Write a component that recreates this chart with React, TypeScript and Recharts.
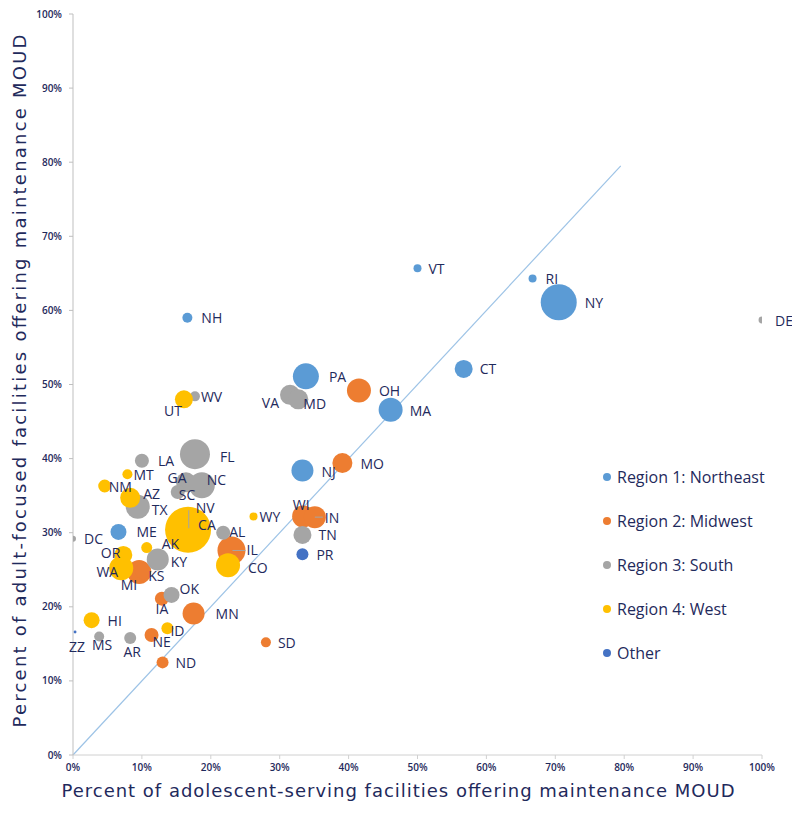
import { ScatterChart, Scatter, XAxis, YAxis, ZAxis, ReferenceLine } from 'recharts'

const NAVY = '#1f2a5c'
const FONT = '"Open Sans", sans-serif'
const TITLE_FONT = '"DejaVu Sans", sans-serif'

// state / territory codes, in drawing order
const STATES = [
  'VT', 'RI', 'NY', 'DE', 'NH', 'PA', 'OH', 'MA', 'CT', 'VA', 'MD', 'UT', 'WV', 'FL',
  'LA', 'MT', 'GA', 'NC', 'SC', 'NM', 'AZ', 'TX', 'NV', 'CA', 'WY', 'ME', 'DC', 'AL',
  'AK', 'KY', 'OR', 'WA', 'MI', 'KS', 'IL', 'CO', 'OK', 'IA', 'MN', 'HI', 'ID', 'NE',
  'MS', 'AR', 'ZZ', 'ND', 'NJ', 'MO', 'WI', 'IN', 'TN', 'PR', 'SD',
]

// % of adolescent-serving facilities offering maintenance MOUD
const ADOLESCENT_PCT = [
  50.0, 66.7, 70.5, 100, 16.6, 33.8, 41.5, 46.1, 56.7, 31.5, 32.7, 16.1, 17.7, 17.7,
  10.0, 7.9, 16.4, 18.7, 15.2, 4.6, 8.3, 9.4, 16.8, 16.7, 26.2, 6.6, 0, 21.8,
  10.7, 12.3, 7.3, 7.0, 9.6, 10.2, 23.0, 22.5, 14.3, 12.9, 17.5, 2.7, 13.7, 11.4,
  3.8, 8.3, 0.3, 13.0, 33.3, 39.1, 33.4, 35.1, 33.3, 33.3, 28.0,
]

// % of adult-focused facilities offering maintenance MOUD
const ADULT_PCT = [
  65.7, 64.3, 61.1, 58.7, 59.0, 51.1, 49.2, 46.6, 52.1, 48.6, 48.0, 48.0, 48.4, 40.6,
  39.7, 37.9, 36.8, 36.4, 35.5, 36.3, 34.7, 33.5, 30.6, 30.4, 32.2, 30.1, 29.2, 30.0,
  28.0, 26.4, 27.0, 25.2, 24.7, 24.8, 27.6, 25.6, 21.6, 21.1, 19.1, 18.2, 17.1, 16.2,
  16.0, 15.8, 16.6, 12.5, 38.4, 39.4, 32.2, 32.1, 29.7, 27.1, 15.2,
]

// bubble size (facility count, estimated)
const FACILITIES = [
  16, 16, 324, 12, 25, 169, 144, 144, 81, 100, 100, 81, 25, 225,
  49, 25, 100, 169, 49, 42, 100, 144, 16, 529, 16, 64, 9, 49,
  30, 121, 81, 144, 144, 64, 196, 144, 64, 49, 121, 64, 36, 49,
  25, 36, 2, 36, 121, 100, 121, 121, 81, 36, 25,
]

const REGION_OF = [
  'R1', 'R1', 'R1', 'R3', 'R1', 'R1', 'R2', 'R1', 'R1', 'R3', 'R3', 'R4', 'R3', 'R3',
  'R3', 'R4', 'R3', 'R3', 'R3', 'R4', 'R4', 'R3', 'R4', 'R4', 'R4', 'R1', 'R3', 'R3',
  'R4', 'R3', 'R4', 'R4', 'R2', 'R2', 'R2', 'R4', 'R3', 'R2', 'R2', 'R4', 'R4', 'R2',
  'R3', 'R3', 'OT', 'R2', 'R1', 'R2', 'R2', 'R2', 'R3', 'OT', 'R2',
]

const REGIONS = [
  { key: 'R1', label: 'Region 1: Northeast', color: '#5b9bd5' },
  { key: 'R2', label: 'Region 2: Midwest', color: '#ed7d31' },
  { key: 'R3', label: 'Region 3: South', color: '#a5a5a5' },
  { key: 'R4', label: 'Region 4: West', color: '#ffc000' },
  { key: 'OT', label: 'Other', color: '#4472c4' },
]

const PCT_TICKS = [0, 10, 20, 30, 40, 50, 60, 70, 80, 90, 100]

const points = STATES.map((state, i) => ({
  state,
  x: ADOLESCENT_PCT[i],
  y: ADULT_PCT[i],
  z: FACILITIES[i],
  region: REGION_OF[i],
}))

const zMin = Math.min(...FACILITIES)
const zMax = Math.max(...FACILITIES)

// label placement relative to bubble centre
type LabelPos = { dx: number; dy?: number; anchor?: 'start' | 'middle' | 'end'; leader?: number[] }
const LABEL_POS: Record<string, LabelPos> = {
  VT: { dx: 11 }, RI: { dx: 13 }, NY: { dx: 26 }, DE: { dx: 13 }, NH: { dx: 14 },
  PA: { dx: 23 }, OH: { dx: 20 }, MA: { dx: 19, dy: 1 }, CT: { dx: 16 },
  VA: { dx: -11, dy: 8, anchor: 'end' }, MD: { dx: 5, dy: 4 },
  UT: { dx: -2, dy: 11, anchor: 'end' }, WV: { dx: 6 }, FL: { dx: 25, dy: 2 },
  LA: { dx: 16 }, MT: { dx: 6 }, GA: { dx: -9, dy: -5, anchor: 'middle' },
  NC: { dx: 5, dy: -6 }, SC: { dx: 1, dy: 3 }, NM: { dx: 4 }, AZ: { dx: 13, dy: -4 },
  TX: { dx: 14, dy: 3 }, NV: { dx: 7, dy: -21, leader: [0, -18, 0, 0] },
  CA: { dx: 10, dy: -5 }, WY: { dx: 6 }, ME: { dx: 18 }, DC: { dx: 11 },
  AL: { dx: 6, dy: -1 }, AK: { dx: 15, dy: -4 }, KY: { dx: 13, dy: 2 },
  OR: { dx: -3, dy: -2, anchor: 'end' }, WA: { dx: -3, dy: 3, anchor: 'end' },
  MI: { dx: -2, dy: 13, anchor: 'end' }, KS: { dx: 5, dy: 4 },
  IL: { dx: 15, dy: -1, leader: [1, 0, 14, 0] }, CO: { dx: 20, dy: 2 }, OK: { dx: 8, dy: -6 },
  IA: { dx: 0, dy: 10, anchor: 'middle' }, MN: { dx: 22 }, HI: { dx: 16 },
  ID: { dx: 3, dy: 2 }, NE: { dx: 1, dy: 7 }, MS: { dx: 3, dy: 8, anchor: 'middle' },
  AR: { dx: 2, dy: 14, anchor: 'middle' }, ZZ: { dx: 2, dy: 15, anchor: 'middle' },
  ND: { dx: 13 }, NJ: { dx: 19, dy: 1 }, MO: { dx: 18 },
  WI: { dx: -2, dy: -12, anchor: 'middle' }, IN: { dx: 10, leader: [0, 0, 8, 0] },
  TN: { dx: 16 }, PR: { dx: 14 }, SD: { dx: 12 },
}

function StateLabel(props: any) {
  const { cx, cy, payload } = props
  const pos = LABEL_POS[payload.state] ?? { dx: 10 }
  const l = pos.leader
  return (
    <g>
      {l && (
        <line x1={cx + l[0]} y1={cy + l[1]} x2={cx + l[2]} y2={cy + l[3]} stroke="#a5a5a5" strokeWidth={1} />
      )}
      <text
        x={cx + pos.dx}
        y={cy + (pos.dy ?? 0)}
        textAnchor={pos.anchor ?? 'start'}
        dominantBaseline="central"
        fontSize={14}
        fontFamily={FONT}
        fill={NAVY}
      >
        {payload.state}
      </text>
    </g>
  )
}

const tickStyle = { fontSize: 10, fontWeight: 600, fill: NAVY, fontFamily: FONT }

export default function App() {
  return (
    <div style={{ position: 'relative', width: 792, height: 811, fontFamily: FONT }}>
      <ScatterChart width={792} height={811} margin={{ top: 6, right: 38, bottom: 0, left: 0 }}>
        <XAxis
          type="number"
          dataKey="x"
          domain={[0, 100]}
          ticks={PCT_TICKS}
          allowDataOverflow
          tickFormatter={(v) => `${v}%`}
          tick={tickStyle}
          stroke="#d0d0d0"
          tickSize={4}
          tickMargin={5}
          height={64}
          label={() => (
            <text x={390} y={782} textAnchor="middle" dominantBaseline="central" fontSize={18}
              fontFamily={TITLE_FONT} fill={NAVY} textLength={673} lengthAdjust="spacing">
              Percent of adolescent-serving facilities offering maintenance MOUD
            </text>
          )}
        />
        <XAxis xAxisId="lab" type="number" dataKey="x" domain={[0, 100]} hide />
        <YAxis
          type="number"
          dataKey="y"
          domain={[0, 100]}
          ticks={PCT_TICKS}
          tickFormatter={(v) => `${v}%`}
          tick={tickStyle}
          stroke="#bfbfbf"
          tickSize={4}
          tickMargin={7}
          width={65}
          label={() => (
            <text x={11} y={373} textAnchor="middle" dominantBaseline="central" fontSize={18}
              fontFamily={TITLE_FONT} fill={NAVY} transform="rotate(-90 11 373)" textLength={693} lengthAdjust="spacing">
              Percent of adult-focused facilities offering maintenance MOUD
            </text>
          )}
        />
        <ZAxis type="number" dataKey="z" domain={[zMin, zMax]} range={[zMin * Math.PI, zMax * Math.PI]} />
        <ReferenceLine
          segment={[{ x: 0, y: 0 }, { x: 79.5, y: 79.5 }]}
          stroke="#9dc3e6"
          strokeWidth={1.2}
        />
        {REGIONS.map((r) => (
          <Scatter
            key={r.key}
            name={r.label}
            data={points.filter((p) => p.region === r.key)}
            fill={r.color}
            isAnimationActive={false}
          />
        ))}
        <Scatter
          xAxisId="lab"
          data={points}
          shape={StateLabel}
          isAnimationActive={false}
          legendType="none"
        />
      </ScatterChart>

      <div style={{ position: 'absolute', left: 595, top: 447, width: 200 }}>
        {REGIONS.map((r) => (
          <div key={r.key} style={{ height: 44, display: 'flex', alignItems: 'center' }}>
            <span
              style={{ width: 8, height: 8, borderRadius: 4, background: r.color, marginRight: 6, flexShrink: 0 }}
            />
            <span style={{ fontSize: 16, color: NAVY, whiteSpace: 'nowrap' }}>{r.label}</span>
          </div>
        ))}
      </div>
    </div>
  )
}
